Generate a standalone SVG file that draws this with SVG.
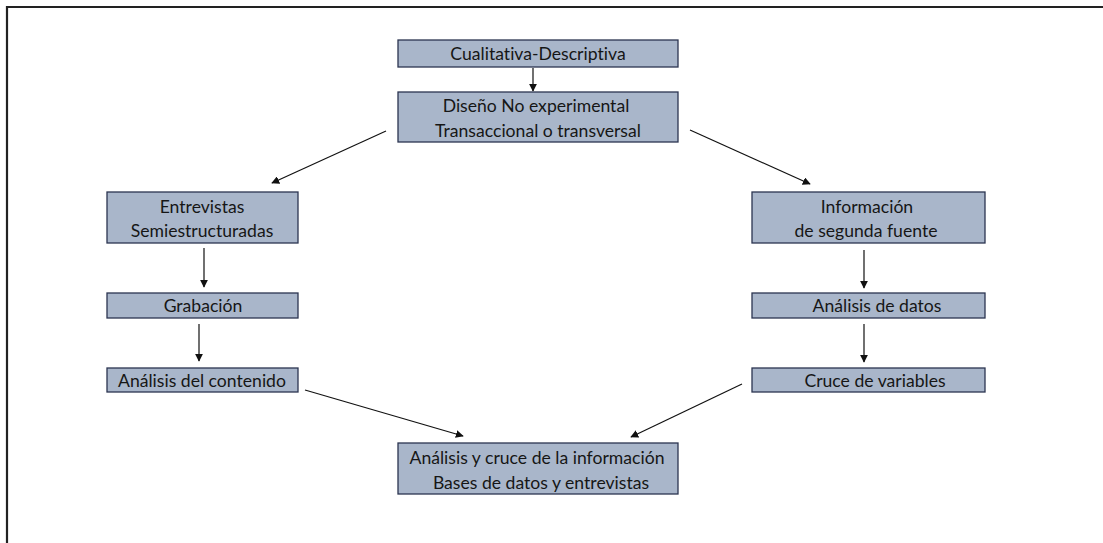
<svg xmlns="http://www.w3.org/2000/svg" width="1103" height="543" viewBox="0 0 1103 543">
<style>
.box{fill:#a9b6ca;stroke:#2b3550;stroke-width:1.3}
.t{font-family:Lato,"Open Sans",sans-serif;font-size:17.6px;fill:#161616;text-anchor:middle;font-variant-ligatures:none}
.c{stroke:#111;stroke-width:1.2;fill:none;marker-end:url(#ah)}
</style>
<defs>
<marker id="ah" viewBox="0 0 10 10" refX="9" refY="5" markerWidth="8" markerHeight="8" markerUnits="userSpaceOnUse" orient="auto">
<path d="M0,0 L10,5 L0,10 z" fill="#111"/>
</marker>
</defs>
<rect width="1103" height="543" fill="#fff"/>
<path d="M7,543 V7 H1103" stroke="#222" stroke-width="2.2" fill="none"/>
<g id="connectors">
<line class="c" x1="533" y1="68" x2="533" y2="91"/>
<line class="c" x1="386" y1="131" x2="272" y2="183"/>
<line class="c" x1="690" y1="130" x2="810" y2="184"/>
<line class="c" x1="204" y1="248" x2="204" y2="287"/>
<line class="c" x1="199" y1="324" x2="199" y2="361"/>
<line class="c" x1="864" y1="250" x2="864" y2="288"/>
<line class="c" x1="864" y1="324" x2="864" y2="362"/>
<line class="c" x1="305" y1="390" x2="463" y2="436"/>
<line class="c" x1="742" y1="384" x2="631" y2="437"/>
</g>
<g id="n1"><rect class="box" x="398" y="40" width="280" height="27"/><text class="t" x="538" y="60">Cualitativa-Descriptiva</text></g>
<g id="n2"><rect class="box" x="398" y="92" width="280" height="50"/><text class="t" x="536" y="112">Diseño No experimental</text><text class="t" x="538" y="137">Transaccional o transversal</text></g>
<g id="n3"><rect class="box" x="107" y="192" width="191" height="51"/><text class="t" x="202" y="213">Entrevistas</text><text class="t" x="202" y="237">Semiestructuradas</text></g>
<g id="n4"><rect class="box" x="107" y="293" width="191" height="25"/><text class="t" x="203" y="312">Grabación</text></g>
<g id="n5"><rect class="box" x="107" y="368" width="191" height="24"/><text class="t" x="202" y="387">Análisis del contenido</text></g>
<g id="n6"><rect class="box" x="752" y="192" width="233" height="51"/><text class="t" x="867" y="213">Información</text><text class="t" x="866" y="237">de segunda fuente</text></g>
<g id="n7"><rect class="box" x="752" y="293" width="233" height="25"/><text class="t" x="877" y="312">Análisis de datos</text></g>
<g id="n8"><rect class="box" x="752" y="368" width="233" height="24"/><text class="t" x="875" y="387">Cruce de variables</text></g>
<g id="n9"><rect class="box" x="398" y="443" width="280" height="51"/><text class="t" x="537" y="464">Análisis y cruce de la información</text><text class="t" x="541" y="489">Bases de datos y entrevistas</text></g>
</svg>
